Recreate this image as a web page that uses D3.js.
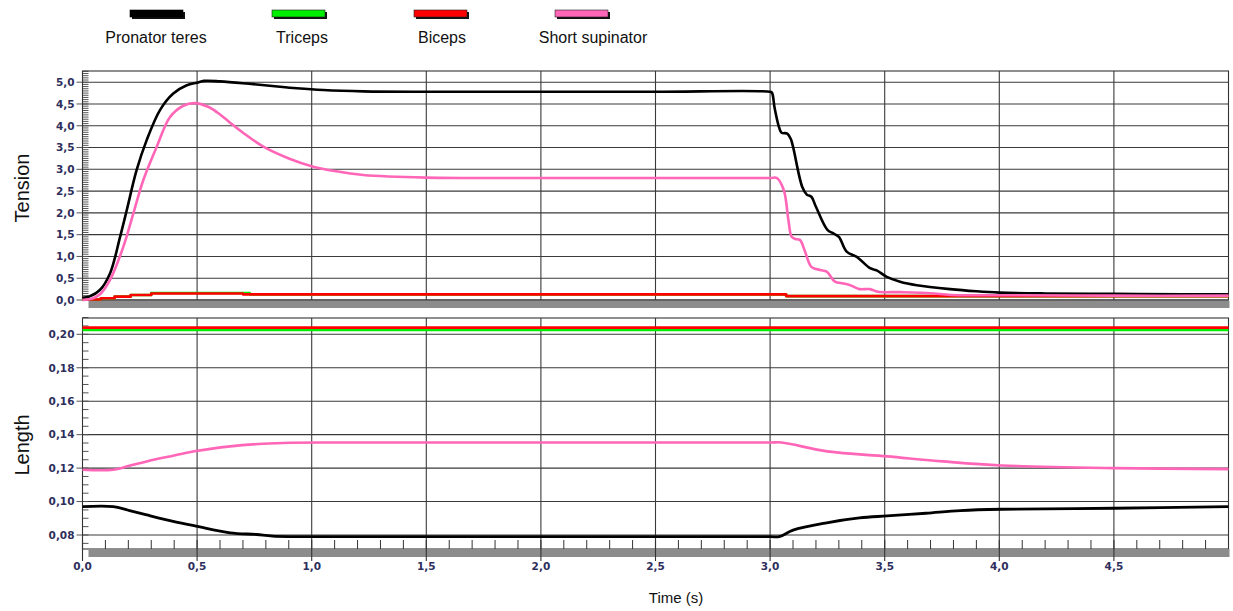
<!DOCTYPE html>
<html><head><meta charset="utf-8">
<script src="https://cdn.jsdelivr.net/npm/d3@7"></script>
<style>body{margin:0;background:#fff}svg{display:block}</style>
</head><body><svg id="c" width="1233" height="611"></svg>
<script>
// ---------- data ----------
const seriesNames = ["Pronator teres", "Triceps", "Biceps", "Short supinator"];
const seriesColors = ["#000000", "#00ee00", "#ff0000", "#ff66b8"];

const xTicks = [0, 0.5, 1.0, 1.5, 2.0, 2.5, 3.0, 3.5, 4.0, 4.5];
const tensionTicks = [0, 0.5, 1.0, 1.5, 2.0, 2.5, 3.0, 3.5, 4.0, 4.5, 5.0];
const lengthTicks = [0.08, 0.10, 0.12, 0.14, 0.16, 0.18, 0.20];

// Tension – Pronator teres
const tensPronT = [0, 0.03, 0.076, 0.12, 0.164, 0.193, 0.236, 0.28, 0.338, 0.396, 0.455, 0.5, 0.53, 0.6, 0.716, 0.85, 0.935, 1.05, 1.225, 1.5, 2.0, 2.5, 3.0, 3.008, 3.02, 3.04, 3.05, 3.075, 3.09, 3.10, 3.14, 3.16, 3.18, 3.20, 3.25, 3.276, 3.30, 3.334, 3.378, 3.436, 3.465, 3.509, 3.567, 3.64, 3.785, 3.9, 4.0, 4.2, 4.5, 4.8, 5.0];
const tensPronV = [0.05, 0.08, 0.23, 0.61, 1.45, 2.06, 2.98, 3.67, 4.36, 4.74, 4.93, 4.99, 5.03, 5.02, 4.97, 4.9, 4.86, 4.82, 4.79, 4.78, 4.78, 4.78, 4.78, 4.76, 4.4, 3.95, 3.84, 3.82, 3.7, 3.52, 2.6, 2.42, 2.37, 2.14, 1.61, 1.53, 1.45, 1.11, 0.99, 0.73, 0.68, 0.53, 0.42, 0.34, 0.25, 0.2, 0.17, 0.15, 0.14, 0.13, 0.13];
// Tension – Short supinator
const tensSupT = [0, 0.047, 0.08, 0.12, 0.178, 0.222, 0.265, 0.324, 0.382, 0.44, 0.49, 0.55, 0.6, 0.644, 0.7, 0.789, 0.9, 1.007, 1.1, 1.225, 1.5, 2.0, 2.5, 3.0, 3.03, 3.06, 3.08, 3.094, 3.11, 3.13, 3.15, 3.18, 3.218, 3.247, 3.283, 3.32, 3.35, 3.39, 3.436, 3.47, 3.567, 3.70, 3.79, 4.0, 4.5, 5.0];
const tensSupV = [0.0, 0.04, 0.15, 0.46, 1.22, 1.99, 2.75, 3.52, 4.2, 4.46, 4.52, 4.43, 4.26, 4.07, 3.84, 3.52, 3.25, 3.06, 2.96, 2.87, 2.81, 2.8, 2.8, 2.8, 2.8, 2.52, 1.83, 1.45, 1.40, 1.38, 1.15, 0.76, 0.69, 0.65, 0.42, 0.38, 0.34, 0.25, 0.25, 0.19, 0.18, 0.155, 0.115, 0.11, 0.1, 0.1];
// Tension – Biceps / Triceps (stepped)
const tensBicT = [0, 0.08, 0.14, 0.21, 0.30, 0.70, 3.07, 5.0];
const tensBicV = [0.01, 0.04, 0.077, 0.115, 0.15, 0.13, 0.09, 0.09];
const tensTriT = [0, 0.08, 0.14, 0.21, 0.30, 0.73, 3.07, 5.0];
const tensTriV = [0.01, 0.04, 0.077, 0.115, 0.16, 0.13, 0.09, 0.09];

// Length
const lenBicT = [0, 5.0];
const lenBicV = [0.204, 0.204];
const lenTriT = [0, 5.0];
const lenTriV = [0.2025, 0.2025];
const lenSupT = [0, 0.134, 0.2, 0.28, 0.4, 0.495, 0.644, 0.789, 0.905, 1.2, 2.0, 3.0, 3.05, 3.25, 3.51, 3.756, 4.01, 4.5, 5.0];
const lenSupV = [0.119, 0.119, 0.1212, 0.124, 0.1275, 0.1302, 0.133, 0.1346, 0.1352, 0.1353, 0.1353, 0.1353, 0.1353, 0.130, 0.127, 0.124, 0.1216, 0.120, 0.1194];
const lenPronT = [0, 0.134, 0.2, 0.28, 0.4, 0.495, 0.644, 0.76, 0.83, 1.2, 2.0, 3.0, 3.04, 3.10, 3.247, 3.39, 3.51, 3.68, 3.83, 4.01, 4.5, 5.0];
const lenPronV = [0.097, 0.097, 0.0948, 0.092, 0.088, 0.0853, 0.0813, 0.0803, 0.0793, 0.079, 0.079, 0.079, 0.079, 0.0829, 0.0873, 0.0902, 0.0914, 0.093, 0.0946, 0.0954, 0.096, 0.097];

// ---------- drawing ----------
const svg = d3.select("#c");
const zip = (t, v) => t.map((d, i) => [d, v[i]]);

const x = d3.scaleLinear().domain([0, 5]).range([82.5, 1228.5]);
const topPanel = {y0: 71, y1: 300, bar: [301, 308]};
const botPanel = {y0: 318, y1: 549, bar: [549, 557]};
const yT = d3.scaleLinear().domain([0, 5]).range([300, 82.2]);
const yL = d3.scaleLinear().domain([0.08, 0.20]).range([535, 334.3]);

const labelFont = "DejaVu Sans";
const labelColor = "#2e2e5c";

function panel(p, y, majors, fmt, minorStep, minorFrom, minorTo, minorLen) {
  const g = svg.append("g");
  g.selectAll(".hg").data(majors).join("line")
    .attr("x1", x(0)).attr("x2", x(5))
    .attr("y1", d => y(d)).attr("y2", d => y(d))
    .attr("stroke", "#3a3a3a").attr("stroke-width", 1.1);
  g.selectAll(".vg").data(xTicks.slice(1)).join("line")
    .attr("x1", d => x(d)).attr("x2", d => x(d))
    .attr("y1", p.y0).attr("y2", p.y1)
    .attr("stroke", "#3a3a3a").attr("stroke-width", 1.1);
  const minors = d3.range(Math.round((minorTo - minorFrom) / minorStep) + 1).map(i => minorFrom + i * minorStep);
  g.selectAll(".mt").data(minors).join("line")
    .attr("x1", x(0)).attr("x2", x(0) + minorLen)
    .attr("y1", d => y(d)).attr("y2", d => y(d))
    .attr("stroke", "#555").attr("stroke-width", 1);
  g.selectAll(".ot").data(majors).join("line")
    .attr("x1", x(0) - 6).attr("x2", x(0))
    .attr("y1", d => y(d)).attr("y2", d => y(d))
    .attr("stroke", "#555").attr("stroke-width", 1);
  g.selectAll(".yl").data(majors).join("text")
    .attr("x", x(0) - 8).attr("y", d => y(d) + 3.8)
    .attr("text-anchor", "end")
    .attr("font-family", labelFont).attr("font-size", 10.5).attr("font-weight", "bold")
    .attr("fill", labelColor)
    .text(fmt);
  g.append("rect").attr("x", x(0)).attr("y", p.y0)
    .attr("width", x(5) - x(0)).attr("height", p.y1 - p.y0)
    .attr("fill", "none").attr("stroke", "#333").attr("stroke-width", 1.1);
  g.append("rect").attr("x", x(0) + 6).attr("y", p.bar[0])
    .attr("width", x(5) - x(0) - 5).attr("height", p.bar[1] - p.bar[0])
    .attr("fill", "#8c8c8c");
  return g;
}

const fmt1 = d => d3.format(".1f")(d).replace(".", ",");
const fmt2 = d => d3.format(".2f")(d).replace(".", ",");

panel(topPanel, yT, tensionTicks, fmt1, 0.05, 0, 5.25, 6);
const gb = panel(botPanel, yL, lengthTicks, fmt2, 0.005, 0.075, 0.21, 6);

const xMinor = d3.range(1, 50).map(i => i / 10).filter(d => Math.abs(d * 2 - Math.round(d * 2)) > 1e-6);
gb.selectAll(".xm").data(xMinor).join("line")
  .attr("x1", d => x(d)).attr("x2", d => x(d))
  .attr("y1", 540).attr("y2", 549)
  .attr("stroke", "#333").attr("stroke-width", 1);
gb.selectAll(".xM").data(xTicks).join("line")
  .attr("x1", d => x(d)).attr("x2", d => x(d))
  .attr("y1", 540).attr("y2", 561)
  .attr("stroke", "#333").attr("stroke-width", 1.1);
gb.selectAll(".xl").data(xTicks).join("text")
  .attr("x", d => x(d)).attr("y", 570)
  .attr("text-anchor", "middle")
  .attr("font-family", labelFont).attr("font-size", 10.5).attr("font-weight", "bold")
  .attr("fill", labelColor)
  .text(fmt1);

const smooth = d3.curveCatmullRom.alpha(0.5);
const lineT = d3.line().x(d => x(d[0])).y(d => yT(d[1])).curve(smooth);
const stepT = d3.line().x(d => x(d[0])).y(d => yT(d[1])).curve(d3.curveStepAfter);
const lineL = d3.line().x(d => x(d[0])).y(d => yL(d[1])).curve(smooth);

function draw(gen, data, color, w) {
  svg.append("path").attr("d", gen(data)).attr("fill", "none")
    .attr("stroke", color).attr("stroke-width", w)
    .attr("stroke-linejoin", "round");
}
draw(stepT, zip(tensTriT, tensTriV), seriesColors[1], 2.6);
draw(stepT, zip(tensBicT, tensBicV), seriesColors[2], 2.6);
draw(lineT, zip(tensPronT, tensPronV), seriesColors[0], 2.6);
draw(lineT, zip(tensSupT, tensSupV), seriesColors[3], 2.6);

draw(lineL, zip(lenTriT, lenTriV), seriesColors[1], 2.4);
draw(lineL, zip(lenBicT, lenBicV), seriesColors[2], 2.6);
draw(lineL, zip(lenSupT, lenSupV), seriesColors[3], 2.6);
draw(lineL, zip(lenPronT, lenPronV), seriesColors[0], 2.8);

svg.append("text").attr("transform", "translate(29,188) rotate(-90)")
  .attr("text-anchor", "middle").attr("font-family", "Liberation Sans")
  .attr("font-size", 20).attr("fill", "#111").text("Tension");
svg.append("text").attr("transform", "translate(29,445) rotate(-90)")
  .attr("text-anchor", "middle").attr("font-family", "Liberation Sans")
  .attr("font-size", 20).attr("fill", "#111").text("Length");
svg.append("text").attr("x", 676).attr("y", 603)
  .attr("text-anchor", "middle").attr("font-family", "Liberation Sans")
  .attr("font-size", 15).attr("fill", "#111").text("Time (s)");

const legX = [156, 298, 440, 581];
const legTextX = [156, 302, 442, 593];
const lg = svg.append("g");
seriesNames.forEach((n, i) => {
  lg.append("rect").attr("x", legX[i] - 26 + 2).attr("y", 12)
    .attr("width", 53).attr("height", 7).attr("fill", "#111");
  lg.append("rect").attr("x", legX[i] - 26).attr("y", 10)
    .attr("width", 53).attr("height", 7).attr("fill", seriesColors[i])
    .attr("stroke", i === 0 ? "#000" : "#222").attr("stroke-width", 0.6);
  lg.append("text").attr("x", legTextX[i]).attr("y", 43)
    .attr("text-anchor", "middle").attr("font-family", "Liberation Sans")
    .attr("font-size", 16).attr("fill", "#111").text(n);
});
</script></body></html>
